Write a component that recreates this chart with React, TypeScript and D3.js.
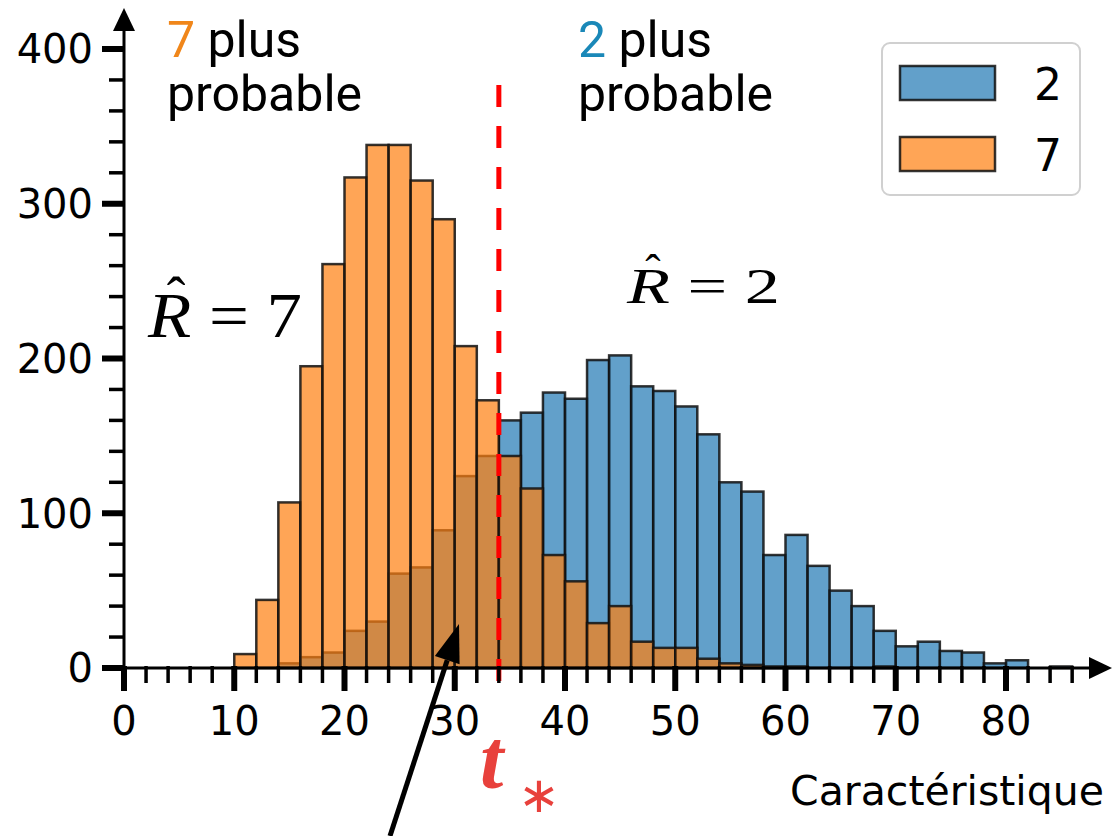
import * as d3 from 'd3'

// histogram bins (left edges, width 2)
const binStarts = [10, 12, 14, 16, 18, 20, 22, 24, 26, 28, 30, 32, 34, 36, 38, 40, 42, 44, 46, 48, 50, 52, 54, 56, 58, 60, 62, 64, 66, 68, 70, 72, 74, 76, 78, 80, 82, 84]
const binWidth = 2

// counts for class "2" (blue) and class "7" (orange)
const counts2 = [0, 0, 3, 7, 10, 24, 30, 61, 65, 89, 124, 137, 160, 165, 178, 174, 199, 202, 182, 179, 169, 151, 120, 114, 73, 86, 66, 50, 40, 24, 14, 17, 11, 10, 3, 5, 0, 1]
const counts7 = [9, 44, 107, 195, 261, 317, 338, 338, 315, 290, 208, 173, 137, 116, 73, 56, 29, 40, 17, 13, 13, 6, 3, 2, 1, 1, 0, 0, 0, 1, 0, 0, 0, 0, 0, 0, 0, 0]

const seriesNames = ['2', '7']
const seriesColors = ['#1f77b4', '#ff7f0e']
const labelColors = ['#1a88b8', '#f0861a']

const xTicks = [0, 10, 20, 30, 40, 50, 60, 70, 80]
const yTicks = [0, 100, 200, 300, 400]
const threshold = 34

const W = 1114
const H = 836

export default function App() {
  const x = d3.scaleLinear().domain([0, 80]).range([124, 1006])
  const y = d3.scaleLinear().domain([0, 400]).range([668, 49])

  const xMinor = d3.range(0, 88, 2).filter(v => v % 10 !== 0)
  const yMinor = d3.range(0, 400, 20).filter(v => v % 100 !== 0)

  const bars = (counts: number[], i: number) =>
    counts.map((c, j) =>
      c > 0 ? (
        <rect
          key={`${i}-${j}`}
          x={x(binStarts[j])}
          y={y(c)}
          width={x(binStarts[j] + binWidth) - x(binStarts[j])}
          height={y(0) - y(c)}
          fill={seriesColors[i]}
          fillOpacity={0.7}
          stroke="#111"
          strokeOpacity={0.85}
          strokeWidth={2.5}
        />
      ) : null
    )

  // annotation arrow
  const a0 = [390, 836]
  const a1 = [459, 624]
  const dx = a1[0] - a0[0]
  const dy = a1[1] - a0[1]
  const len = Math.hypot(dx, dy)
  const ux = dx / len
  const uy = dy / len
  const hl = 38
  const hw = 13
  const bx = a1[0] - ux * hl
  const by = a1[1] - uy * hl
  const head = `${a1[0]},${a1[1]} ${bx - uy * hw},${by + ux * hw} ${bx + uy * hw},${by - ux * hw}`

  const tickFont = { fontFamily: 'DejaVu Sans', fontSize: 40 }
  const topFont = { fontFamily: 'Roboto', fontSize: 50 }
  const serif = { fontFamily: 'Liberation Serif' }

  return (
    <svg width={W} height={H} style={{ position: 'absolute', left: 0, top: 0, background: '#fff' }}>
      {/* histograms */}
      <g>{bars(counts2, 0)}</g>
      <g>{bars(counts7, 1)}</g>

      {/* threshold */}
      <line x1={x(threshold)} x2={x(threshold)} y1={85} y2={700} stroke="#ff0000" strokeWidth={5} strokeDasharray="22 19" />

      {/* y axis */}
      <line x1={124} x2={124} y1={670} y2={20} stroke="#000" strokeWidth={3} />
      <polygon points="124,8 113,31 135,31" fill="#000" />
      {yTicks.map(t => (
        <g key={`yt${t}`}>
          <line x1={102} x2={124} y1={y(t)} y2={y(t)} stroke="#000" strokeWidth={6} />
          <text x={93} y={y(t)} dy="0.36em" textAnchor="end" {...tickFont}>{t}</text>
        </g>
      ))}
      {yMinor.map(t => (
        <line key={`ym${t}`} x1={109} x2={124} y1={y(t)} y2={y(t)} stroke="#000" strokeWidth={3.5} />
      ))}

      {/* x axis */}
      <line x1={122} x2={1095} y1={668} y2={668} stroke="#000" strokeWidth={3} />
      <polygon points="1112,668 1089,657 1089,679" fill="#000" />
      {xTicks.map(t => (
        <g key={`xt${t}`}>
          <line x1={x(t)} x2={x(t)} y1={666} y2={691} stroke="#000" strokeWidth={6} />
          <text x={x(t)} y={735} textAnchor="middle" {...tickFont}>{t}</text>
        </g>
      ))}
      {xMinor.map(t => (
        <line key={`xm${t}`} x1={x(t)} x2={x(t)} y1={666} y2={683} stroke="#000" strokeWidth={3.5} />
      ))}
      <text x={1104} y={805} textAnchor="end" fontFamily="DejaVu Sans" fontSize={41}>Caractéristique</text>

      {/* t_* */}
      <text x={480} y={788} fill="#e8413c" {...serif} fontStyle="italic" fontWeight="bold" fontSize={84}>t</text>
      <text x={518} y={812} fill="#e8413c" {...serif} fontSize={50}>∗</text>

      {/* top annotations */}
      <text x={167} y={57} {...topFont}>
        <tspan fill={labelColors[1]}>7</tspan> plus
      </text>
      <text x={167} y={111} {...topFont}>probable</text>
      <text x={578} y={57} {...topFont}>
        <tspan fill={labelColors[0]}>2</tspan> plus
      </text>
      <text x={578} y={111} {...topFont}>probable</text>

      {/* R hat labels */}
      <text x={148} y={337} {...serif} fontSize={64} textLength={154} lengthAdjust="spacingAndGlyphs">
        <tspan fontStyle="italic">R</tspan> = 7
      </text>
      <text x={176} y={316} textAnchor="middle" {...serif} fontSize={56}>ˆ</text>
      <text x={627} y={303} {...serif} fontSize={50} textLength={153} lengthAdjust="spacingAndGlyphs">
        <tspan fontStyle="italic">R</tspan> = 2
      </text>
      <text x={653} y={287} textAnchor="middle" {...serif} fontSize={46}>ˆ</text>

      {/* arrow */}
      <line x1={a0[0]} y1={a0[1]} x2={bx} y2={by} stroke="#000" strokeWidth={5} />
      <polygon points={head} fill="#000" />

      {/* legend */}
      <rect x={882} y={43} width={198} height={152} rx={8} fill="#fff" fillOpacity={0.8} stroke="#d0d0d0" strokeWidth={2} />
      {seriesNames.map((n, i) => (
        <g key={n}>
          <rect x={900} y={66 + i * 71} width={95} height={34} fill={seriesColors[i]} fillOpacity={0.7} stroke="#111" strokeOpacity={0.85} strokeWidth={2.5} />
          <text x={1062} y={100 + i * 71} textAnchor="end" fontFamily="DejaVu Sans" fontSize={44}>{n}</text>
        </g>
      ))}
    </svg>
  )
}
